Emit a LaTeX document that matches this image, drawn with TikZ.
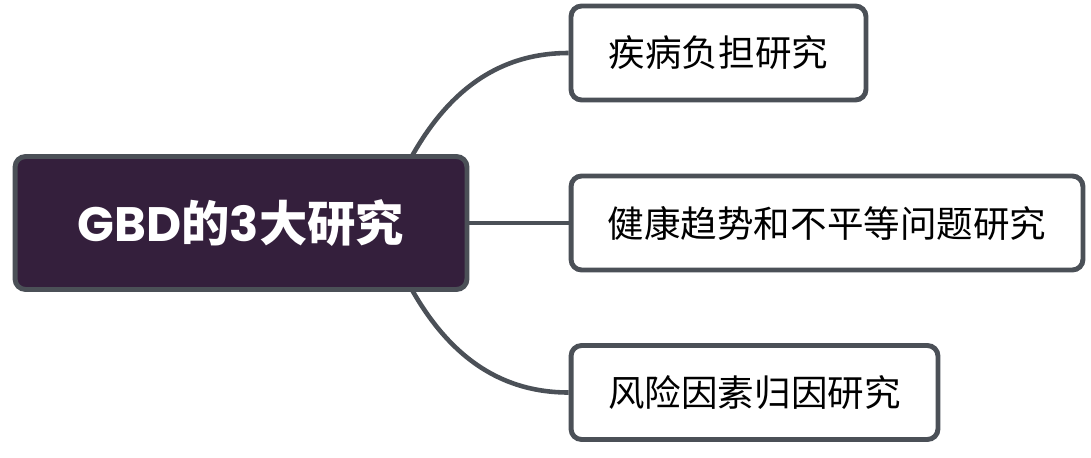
\documentclass[tikz,border=0pt]{standalone}
\usepackage{fontspec}
\newfontfamily\cjk{Noto Sans CJK SC}
\newfontfamily\latin{Poppins}
\usetikzlibrary{positioning,backgrounds}
\definecolor{edge}{HTML}{4B5057}
\definecolor{plum}{HTML}{341F3C}
\tikzset{
  topic/.style={draw=edge, fill=plum, line width=2.8pt, rounded corners=6pt, minimum width=9.04cm, minimum height=2.66cm, text=white, font=\fontsize{27.5}{32}\selectfont\bfseries},
  sub/.style={draw=edge, fill=white, line width=2.8pt, rounded corners=6pt, minimum height=1.88cm, text=black, font=\cjk\fontsize{20.8}{24}\selectfont},
  link/.style={draw=edge, line width=2.6pt},
}
\begin{document}
\begin{tikzpicture}[x=0.02cm,y=-0.02cm]
\useasboundingbox (0,0) rectangle (1091,457);
\node[topic] (root) at (241,223) {{\latin GBD}{\cjk 的}{\latin 3}{\cjk 大研究}};
\node[sub, minimum width=5.9cm] (b1) at (718.5,53) {疾病负担研究};
\node[sub, minimum width=10.24cm] (b2) at (827,223) {健康趋势和不平等问题研究};
\node[sub, minimum width=7.34cm] (b3) at (754.5,392.5) {风险因素归因研究};
\coordinate (up) at (395,190);
\coordinate (dn) at (395,256);
\begin{scope}[on background layer]
\draw[link] (up) to[out=66, in=180] (b1.west);
\draw[link] (root.east) -- (b2.west);
\draw[link] (dn) to[out=-66, in=180] (b3.west);
\end{scope}
\end{tikzpicture}
\end{document}
